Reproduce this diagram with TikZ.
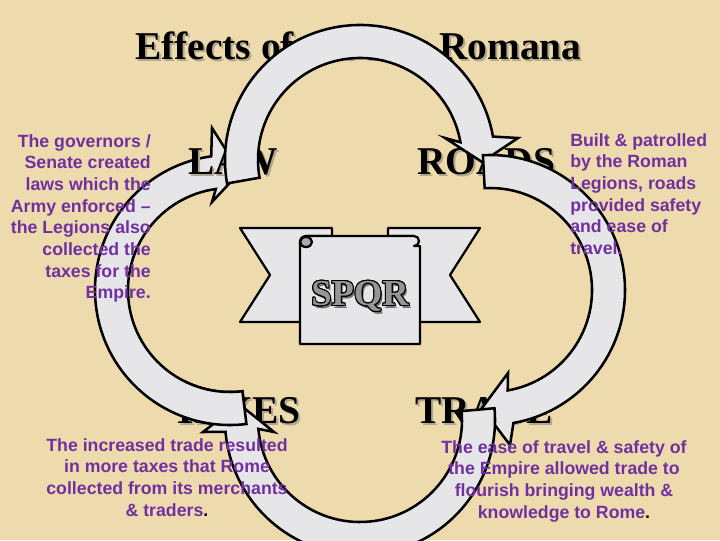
\documentclass[tikz,border=0pt]{standalone}
\usepackage{fontspec}
\setmainfont{Liberation Serif}
\newfontfamily\notefont{Liberation Sans}
\usepackage[copies]{contour}
\contourlength{0.7pt}
\definecolor{Parchment}{RGB}{237,219,174}
\definecolor{Marble}{RGB}{230,230,232}
\definecolor{RollGray}{RGB}{170,170,172}
\definecolor{NotePurple}{RGB}{112,48,160}
\definecolor{ShadeGray}{RGB}{178,166,140}
\definecolor{SpqrGray}{RGB}{150,150,150}

\begin{document}
\begin{tikzpicture}[x=0.025cm,y=0.025cm,
  word/.style={font=\fontsize{28}{30}\selectfont\bfseries,inner sep=0pt,anchor=base west},
  wordshade/.style={word,text=ShadeGray},
  band/.style={draw=black,fill=Marble,line width=1.8pt,line join=miter},
  banner/.style={draw=black,fill=Marble,line width=1.6pt,line join=round},
  note/.style={font=\notefont\bfseries\fontsize{12.6}{15.4}\selectfont,text=NotePurple,inner sep=0pt}
]
\fill[Parchment] (0,0) rectangle (720,540);
\useasboundingbox (0,0) rectangle (720,540);

% title and the four big words
\node[wordshade] (title-s) at (137,478) {Effects of the Pax Romana};
\node[word] (title) at (135,480) {Effects of the Pax Romana};
\node[wordshade] (taxes-s) at (174,115) {TAXES};
\node[word] (taxes) at (172,117) {TAXES};
\node[wordshade] (trade-s) at (417,115) {TRADE};
\node[word] (trade) at (415,117) {TRADE};
\node[wordshade] (roads-s) at (419,363) {ROADS};
\node[word] (roads) at (417,365) {ROADS};

% SPQR banner
\draw[banner] (240,312) -- (332,312) -- (332,218) -- (240,218) -- (270,265) -- cycle;
\draw[banner] (480,312) -- (388,312) -- (388,218) -- (480,218) -- (450,265) -- cycle;
\draw[banner,fill=RollGray] (306,304) -- (332,304) arc[start angle=90,end angle=-90,radius=5] -- (306,294) -- cycle;
\draw[banner,fill=RollGray] (388,304) -- (414,304) -- (414,294) -- (388,294) arc[start angle=-90,end angle=-270,radius=5] -- cycle;
\draw[banner] (306,304) -- (414,304) arc[start angle=90,end angle=-90,radius=5] -- (420,294) -- (420,196) -- (300,196) -- (300,298)
  arc[start angle=180,end angle=90,radius=6] -- cycle;
\draw[banner,fill=RollGray] (306,298) ellipse[x radius=6,y radius=5];
\node[font=\fontsize{26}{28}\selectfont\bfseries,text=black!55,inner sep=0pt] (spqr-s) at (362,241) {SPQR};
\node[font=\fontsize{26}{28}\selectfont\bfseries,inner sep=0pt] (spqr) at (360,243) {\contour{black}{\textcolor{SpqrGray}{SPQR}}};

% the four curved arrows
\draw[band,shift={(230,250)}] (-83:135) arc[start angle=-83,end angle=-262,radius=135]
  -- (-18,162) -- (10,118) -- (-18,88) -- (-262:102) arc[start angle=-262,end angle=-83,radius=102] -- cycle;
\node[wordshade] (law-s) at (190,363) {LAW};
\node[word] (law) at (188,365) {LAW};
\draw[band,shift={(360,380)}] (190:135) arc[start angle=190,end angle=10,radius=135]
  -- (158,22) -- (122,-2) -- (85,22) -- (10:102) arc[start angle=10,end angle=190,radius=102] -- cycle;
\draw[band,shift={(490,250)}] (93:135) arc[start angle=93,end angle=-80,radius=135]
  -- (20,-155) -- (-8,-118) -- (18,-83) -- (-80:102) arc[start angle=-80,end angle=93,radius=102] -- cycle;
\draw[band,shift={(360,120)}] (5:135) arc[start angle=5,end angle=-175,radius=135]
  -- (-157,-12) -- (-121,16) -- (-86,-12) -- (-175:102) arc[start angle=-175,end angle=5,radius=102] -- cycle;
% tail of the left arrow lies over the head of the bottom one
\begin{scope}
  \clip (185,100) rectangle (268,160);
  \draw[band,shift={(230,250)}] (-83:135) arc[start angle=-83,end angle=-262,radius=135]
    -- (-18,162) -- (10,118) -- (-18,88) -- (-262:102) arc[start angle=-262,end angle=-83,radius=102] -- cycle;
\end{scope}

% notes
\node[note,align=right,anchor=north east] (law-note) at (151,406)
  {The governors /\\Senate created\\laws which the\\Army enforced –\\the Legions also\\collected the\\taxes for the\\Empire.};
\node[note,align=left,anchor=north west] (roads-note) at (570,407)
  {Built \& patrolled\\by the Roman\\Legions, roads\\provided safety\\and ease of\\travel.};
\node[note,align=center,anchor=north] (taxes-note) at (167,102)
  {The increased trade resulted\\in more taxes that Rome\\collected from its merchants\\\& traders{\color{black}.}};
\node[note,align=center,anchor=north] (trade-note) at (564,100)
  {The ease of travel \& safety of\\the Empire allowed trade to\\flourish bringing wealth \&\\knowledge to Rome{\color{black}.}};
\end{tikzpicture}
\end{document}
